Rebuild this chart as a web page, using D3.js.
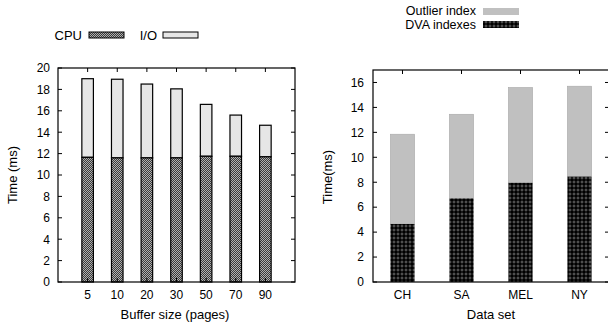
<!DOCTYPE html>
<html><head><meta charset="utf-8">
<script src="https://cdn.jsdelivr.net/npm/d3@7"></script>
<style>body{margin:0;background:#fff}svg{display:block}text{font-family:"Liberation Sans",Arial,sans-serif;font-size:12px;fill:#000}text.big{font-size:13px}text.leg{font-size:12.5px}</style>
</head><body>
<script>
// Left chart data
const bufferSizes = ["5","10","20","30","50","70","90"];
const cpuTime = [11.65,11.6,11.6,11.6,11.75,11.75,11.7];
const totalTime = [19.0,18.95,18.5,18.05,16.6,15.6,14.65];
const leftSeries = ["CPU","I/O"];
const leftYTicks = [0,2,4,6,8,10,12,14,16,18,20];
// Right chart data
const dataSets = ["CH","SA","MEL","NY"];
const dvaTime = [4.65,6.7,7.95,8.45];
const totalTime2 = [11.85,13.45,15.6,15.7];
const rightSeries = ["Outlier index","DVA indexes"];
const rightYTicks = [0,2,4,6,8,10,12,14,16];

const W=608,H=327;
const svg=d3.select("body").append("svg").attr("width",W).attr("height",H);
const defs=svg.append("defs");
// CPU checker pattern
const p1=defs.append("pattern").attr("id","cpu").attr("patternUnits","userSpaceOnUse").attr("width",2).attr("height",2);
p1.append("rect").attr("width",2).attr("height",2).attr("fill","#3a3a3a");
p1.append("rect").attr("width",1).attr("height",1).attr("fill","#b0b0b0");
p1.append("rect").attr("x",1).attr("y",1).attr("width",1).attr("height",1).attr("fill","#b0b0b0");
// DVA dotted pattern
const p2=defs.append("pattern").attr("id","dva").attr("patternUnits","userSpaceOnUse").attr("width",4).attr("height",4);
p2.append("rect").attr("width",4).attr("height",4).attr("fill","#000");
p2.append("circle").attr("cx",2).attr("cy",2).attr("r",1).attr("fill","none").attr("stroke","#8a8a8a").attr("stroke-width",0.7);

function frame(g,x0,x1,y0,y1){
  g.append("rect").attr("x",x0).attr("y",y1).attr("width",x1-x0).attr("height",y0-y1)
   .attr("fill","none").attr("stroke","#000").attr("stroke-width",1.2);
}

// ---- Left chart ----
{
const x=d3.scaleLinear().domain([0,8]).range([58,295]);
const y=d3.scaleLinear().domain([0,20]).range([282,68]);
const g=svg.append("g");
const hw=0.195;
bufferSizes.forEach((c,i)=>{
  const cx=i+1;
  g.append("rect").attr("x",x(cx-hw)).attr("width",x(cx+hw)-x(cx-hw))
   .attr("y",y(totalTime[i])).attr("height",y(cpuTime[i])-y(totalTime[i]))
   .attr("fill","#e6e6e6").attr("stroke","#000").attr("stroke-width",1.2);
  g.append("rect").attr("x",x(cx-hw)).attr("width",x(cx+hw)-x(cx-hw))
   .attr("y",y(cpuTime[i])).attr("height",y(0)-y(cpuTime[i]))
   .attr("fill","url(#cpu)").attr("stroke","#000").attr("stroke-width",1.2);
});
frame(g,x(0),x(8),y(0),y(20));
leftYTicks.forEach(t=>{
  g.append("line").attr("x1",x(0)).attr("x2",x(0)+4).attr("y1",y(t)).attr("y2",y(t)).attr("stroke","#000");
  g.append("line").attr("x1",x(8)).attr("x2",x(8)-4).attr("y1",y(t)).attr("y2",y(t)).attr("stroke","#000");
  g.append("text").attr("x",50).attr("y",y(t)).attr("dy","0.36em").attr("text-anchor","end").text(t);
});
bufferSizes.forEach((c,i)=>{
  g.append("line").attr("x1",x(i+1)).attr("x2",x(i+1)).attr("y1",y(20)).attr("y2",y(20)+4).attr("stroke","#000");
  g.append("line").attr("x1",x(i+1)).attr("x2",x(i+1)).attr("y1",y(0)).attr("y2",y(0)-4).attr("stroke","#000");
  g.append("text").attr("x",x(i+1)).attr("y",299).attr("text-anchor","middle").text(c);
});
g.append("text").attr("class","big").attr("x",175).attr("y",319).attr("text-anchor","middle").text("Buffer size (pages)");
g.append("text").attr("class","big").attr("transform","translate(17,175) rotate(-90)").attr("text-anchor","middle").text("Time (ms)");
// legend
g.append("text").attr("class","big").attr("x",82).attr("y",40).attr("text-anchor","end").text(leftSeries[0]);
g.append("rect").attr("x",89).attr("y",32).attr("width",35).attr("height",6).attr("fill","url(#cpu)").attr("stroke","#000").attr("stroke-width",1);
g.append("text").attr("class","big").attr("x",157).attr("y",40).attr("text-anchor","end").text(leftSeries[1]);
g.append("rect").attr("x",163).attr("y",32).attr("width",35).attr("height",6).attr("fill","#e6e6e6").attr("stroke","#000").attr("stroke-width",1);
}

// ---- Right chart ----
{
const x=d3.scaleLinear().domain([0,4]).range([373,609]);
const y=d3.scaleLinear().domain([0,17]).range([282,70]);
const g=svg.append("g");
const hw=0.205;
dataSets.forEach((c,i)=>{
  const cx=i+0.5;
  g.append("rect").attr("x",x(cx-hw)).attr("width",x(cx+hw)-x(cx-hw))
   .attr("y",y(totalTime2[i])).attr("height",y(dvaTime[i])-y(totalTime2[i]))
   .attr("fill","#c0c0c0").attr("stroke","#a8a8a8").attr("stroke-width",0.6);
  g.append("rect").attr("x",x(cx-hw)).attr("width",x(cx+hw)-x(cx-hw))
   .attr("y",y(dvaTime[i])).attr("height",y(0)-y(dvaTime[i]))
   .attr("fill","url(#dva)");
});
frame(g,x(0),x(4),y(0),y(17));
rightYTicks.forEach(t=>{
  g.append("line").attr("x1",x(0)).attr("x2",x(0)+4).attr("y1",y(t)).attr("y2",y(t)).attr("stroke","#000");
  g.append("line").attr("x1",x(4)-1).attr("x2",x(4)-4).attr("y1",y(t)).attr("y2",y(t)).attr("stroke","#000");
  g.append("text").attr("x",364).attr("y",y(t)).attr("dy","0.36em").attr("text-anchor","end").text(t);
});
dataSets.forEach((c,i)=>{
  g.append("line").attr("x1",x(i+0.5)).attr("x2",x(i+0.5)).attr("y1",y(17)).attr("y2",y(17)+4).attr("stroke","#000");
  g.append("text").attr("x",x(i+0.5)).attr("y",299).attr("text-anchor","middle").text(c);
});
g.append("text").attr("class","big").attr("x",491).attr("y",319).attr("text-anchor","middle").text("Data set");
g.append("text").attr("class","big").attr("transform","translate(332,177) rotate(-90)").attr("text-anchor","middle").text("Time(ms)");
g.append("text").attr("class","leg").attr("x",476).attr("y",15).attr("text-anchor","end").text(rightSeries[0]);
g.append("rect").attr("x",483).attr("y",8).attr("width",36).attr("height",7).attr("fill","#c0c0c0");
g.append("text").attr("class","leg").attr("x",476).attr("y",29).attr("text-anchor","end").text(rightSeries[1]);
g.append("rect").attr("x",483).attr("y",21).attr("width",36).attr("height",7).attr("fill","url(#dva)");
}
</script>
</body></html>
